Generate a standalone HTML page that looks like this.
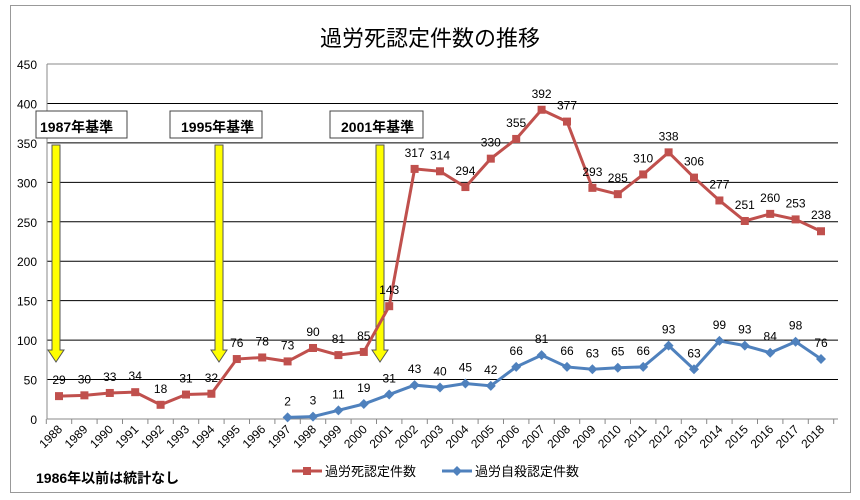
<!DOCTYPE html>
<html><head><meta charset="utf-8"><style>
body{margin:0;background:#fff}
svg{display:block;font-family:"Liberation Sans","Noto Sans CJK JP",sans-serif}
</style></head><body>
<svg id="s" width="860" height="500" viewBox="0 0 860 500">
<rect x="10.5" y="5.5" width="840" height="487" fill="#fff" stroke="#999"/>
<text x="430" y="46" font-size="22" text-anchor="middle" fill="#000">過労死認定件数の推移</text>
<g id="g"></g>
<rect x="36" y="111" width="91" height="27" fill="#fff" stroke="#444"/>
<text x="40" y="132" font-size="14" font-weight="bold">1987年基準</text>
<rect x="170" y="111" width="92" height="27" fill="#fff" stroke="#444"/>
<text x="181" y="132" font-size="14" font-weight="bold">1995年基準</text>
<rect x="330" y="111" width="93" height="27" fill="#fff" stroke="#444"/>
<text x="341" y="132" font-size="14" font-weight="bold">2001年基準</text>
<text x="36" y="483" font-size="14" font-weight="bold">1986年以前は統計なし</text>
<line x1="292" y1="471" x2="322" y2="471" stroke="#c0504d" stroke-width="3"/>
<rect x="303" y="467" width="8" height="8" fill="#c0504d"/>
<text x="325" y="476" font-size="13">過労死認定件数</text>
<line x1="442" y1="471" x2="472" y2="471" stroke="#4f81bd" stroke-width="3"/>
<path d="M457 466 L462 471 L457 476 L452 471Z" fill="#4f81bd"/>
<text x="475" y="476" font-size="13">過労自殺認定件数</text>
</svg>
<script>
var g=document.getElementById('g'),h='';
function X(i){return 59+i*25.4}function Y(v){return 419-v*0.7889}
for(var k=0;k<=9;k++){var y=Y(k*50);h+='<line x1="47" y1="'+y+'" x2="838" y2="'+y+'" stroke="'+(k==9?'#888':'#000')+'" stroke-width="1"/>';
h+='<text x="37" y="'+(y+5)+'" font-size="12" text-anchor="end">'+k*50+'</text>';}
h+='<line x1="47" y1="64" x2="47" y2="419" stroke="#888"/>';
h+='<line x1="47" y1="419" x2="838" y2="419" stroke="#888"/>';
for(var i=0;i<=31;i++){var x=46.3+i*25.4;h+='<line x1="'+x+'" y1="419" x2="'+x+'" y2="424" stroke="#888"/>';}
for(var i=0;i<=30;i++){var x=X(i)+4;h+='<text transform="translate('+x+',430) rotate(-45)" font-size="12" text-anchor="end">'+(1988+i)+'</text>';}
// arrows
[56,219,380].forEach(function(x){h+='<path d="M'+(x-4)+' 145 L'+(x+4)+' 145 L'+(x+4)+' 350 L'+(x+8)+' 350 L'+x+' 362 L'+(x-8)+' 350 L'+(x-4)+' 350Z" fill="#ffff00" stroke="#555" stroke-width="1"/>';});
var r=[29,30,33,34,18,31,32,76,78,73,90,81,85,143,317,314,294,330,355,392,377,293,285,310,338,306,277,251,260,253,238];
var b=[2,3,11,19,31,43,40,45,42,66,81,66,63,65,66,93,63,99,93,84,98,76];
function series(d,o,c,sq){var p='';d.forEach(function(v,j){p+=(j?'L':'M')+X(j+o)+' '+Y(v)});
h+='<path d="'+p+'" fill="none" stroke="'+c+'" stroke-width="3"/>';
d.forEach(function(v,j){var x=X(j+o),y=Y(v);
h+=sq?'<rect x="'+(x-4)+'" y="'+(y-4)+'" width="8" height="8" fill="'+c+'"/>':'<path d="M'+x+' '+(y-5)+' L'+(x+5)+' '+y+' L'+x+' '+(y+5)+' L'+(x-5)+' '+y+'Z" fill="'+c+'"/>';
h+='<text x="'+x+'" y="'+(y-12)+'" font-size="12" text-anchor="middle">'+v+'</text>';});}
series(r,0,'#c0504d',1);series(b,9,'#4f81bd',0);
g.innerHTML=h;
</script>
</body></html>
